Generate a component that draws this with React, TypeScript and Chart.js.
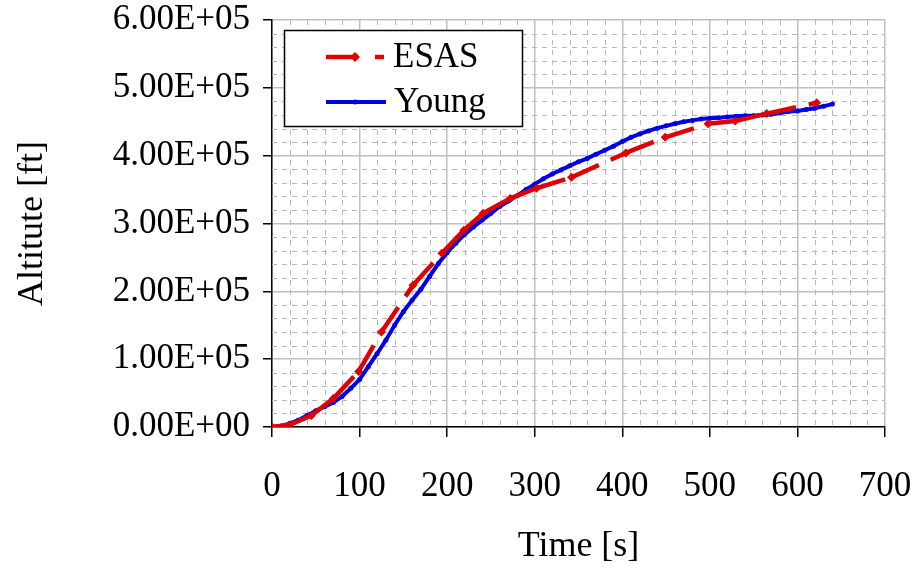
import React, { useEffect, useRef } from 'react';
import { Chart, registerables } from 'chart.js';

Chart.register(...registerables);

// ---- Data ----
const seriesNames = ['ESAS', 'Young'];

const youngTime = [
  0, 10, 20, 30, 40, 50, 60, 70, 80, 90, 100, 110, 120, 130, 140, 150, 160, 170, 180, 190,
  200, 210, 220, 230, 240, 250, 260, 270, 280, 290, 300, 310, 320, 330, 340, 350, 360, 370,
  380, 390, 400, 410, 420, 430, 440, 450, 460, 470, 480, 490, 500, 510, 520, 530, 540, 550,
  560, 570, 580, 590, 600, 610, 620, 630, 640,
];
const youngAlt = [
  0, 1500, 5000, 10000, 17000, 24000, 30000, 36000, 45000, 57000, 70000, 89000, 108000, 128000,
  150000, 170000, 187000, 203000, 222000, 241000, 257000, 271000, 284000, 295000, 305000, 315000,
  325000, 333000, 341000, 350000, 358000, 366000, 373000, 379000, 385000, 391000, 396000, 402000,
  408000, 414000, 421000, 427000, 432000, 436500, 440500, 444000, 447000, 450000, 452000, 454000,
  455000, 456000, 457000, 458000, 459000, 459000, 460000, 461000, 463000, 465000, 466000, 468000,
  470000, 473000, 476000,
];

const esasTime = [0, 20, 45, 70, 99, 125, 161, 194, 219, 241, 272, 302, 342, 404, 449, 498, 529, 565, 622];
const esasAlt = [
  0, 3000, 17000, 42000, 82000, 140000, 209000, 256000, 290000, 315000, 337000, 352000, 368000,
  404000, 427000, 447000, 451000, 462000, 478000,
];

const xTickValues = [0, 100, 200, 300, 400, 500, 600, 700];
const yTickLabels = ['0.00E+00', '1.00E+05', '2.00E+05', '3.00E+05', '4.00E+05', '5.00E+05', '6.00E+05'];

const RED = '#e00000';
const BLUE = '#0000e6';
const FONT = '"Liberation Serif", "Times New Roman", serif';

const minorGridPlugin = {
  id: 'minorGrid',
  beforeDatasetsDraw(chart: any) {
    const { ctx, chartArea, scales } = chart;
    const xs = scales.x;
    const ys = scales.y;
    ctx.save();
    ctx.strokeStyle = '#b8b8b8';
    ctx.lineWidth = 1;
    ctx.setLineDash([5, 5]);
    for (let v = 20; v < 700; v += 20) {
      if (v % 100 === 0) continue;
      const px = Math.round(xs.getPixelForValue(v)) + 0.5;
      ctx.beginPath();
      ctx.moveTo(px, chartArea.top);
      ctx.lineTo(px, chartArea.bottom);
      ctx.stroke();
    }
    for (let v = 20000; v < 600000; v += 20000) {
      if (v % 100000 === 0) continue;
      const py = Math.round(ys.getPixelForValue(v)) + 0.5;
      ctx.beginPath();
      ctx.moveTo(chartArea.left, py);
      ctx.lineTo(chartArea.right, py);
      ctx.stroke();
    }
    ctx.restore();
  },
};

const legendPlugin = {
  id: 'insideLegend',
  afterDraw(chart: any) {
    const { ctx, chartArea } = chart;
    const bx = chartArea.left + 12;
    const by = chartArea.top + 10;
    const bw = 239;
    const bh = 97;
    ctx.save();
    ctx.fillStyle = '#ffffff';
    ctx.fillRect(bx, by, bw, bh);
    ctx.strokeStyle = '#000000';
    ctx.lineWidth = 1.5;
    ctx.setLineDash([]);
    ctx.strokeRect(bx + 0.5, by + 0.5, bw - 1, bh - 1);

    const lx0 = bx + 42;
    const lx1 = bx + 100;
    const mid = (lx0 + lx1) / 2;
    const y1 = by + 27;
    const y2 = by + 72;

    // ESAS sample
    ctx.strokeStyle = RED;
    ctx.lineWidth = 4.5;
    ctx.setLineDash([32, 17]);
    ctx.beginPath();
    ctx.moveTo(lx0, y1);
    ctx.lineTo(lx1, y1);
    ctx.stroke();
    ctx.setLineDash([]);
    ctx.fillStyle = RED;
    ctx.beginPath();
    ctx.moveTo(mid + 5, y1);
    ctx.lineTo(mid, y1 - 5);
    ctx.lineTo(mid - 5, y1);
    ctx.lineTo(mid, y1 + 5);
    ctx.closePath();
    ctx.fill();

    // Young sample
    ctx.strokeStyle = BLUE;
    ctx.lineWidth = 4;
    ctx.beginPath();
    ctx.moveTo(lx0, y2);
    ctx.lineTo(lx1 + 2, y2);
    ctx.stroke();
    ctx.fillStyle = BLUE;
    ctx.beginPath();
    ctx.arc(mid, y2, 2.5, 0, Math.PI * 2);
    ctx.fill();

    ctx.fillStyle = '#000000';
    ctx.font = `35px ${FONT}`;
    ctx.textBaseline = 'middle';
    ctx.textAlign = 'left';
    ctx.fillText(seriesNames[0], bx + 109, y1 + 1);
    ctx.fillText(seriesNames[1], bx + 110, y2 + 1);
    ctx.restore();
  },
};

export default function App() {
  const canvasRef = useRef<HTMLCanvasElement | null>(null);

  useEffect(() => {
    if (!canvasRef.current) return;
    const chart = new Chart(canvasRef.current, {
      type: 'line',
      data: {
        datasets: [
          {
            label: seriesNames[0],
            data: esasTime.map((t, i) => ({ x: t, y: esasAlt[i] })),
            borderColor: RED,
            backgroundColor: RED,
            borderWidth: 4.5,
            borderDash: [30, 13],
            pointStyle: 'rectRot',
            pointRadius: 4.5,
            pointBorderWidth: 0,
            pointBackgroundColor: RED,
            tension: 0,
            segment: {
              borderDashOffset: (c: any) => c.p0DataIndex * 0.001,
            },
          },
          {
            label: seriesNames[1],
            data: youngTime.map((t, i) => ({ x: t, y: youngAlt[i] })),
            borderColor: BLUE,
            backgroundColor: BLUE,
            borderWidth: 4,
            pointStyle: 'circle',
            pointRadius: 2.5,
            pointBorderWidth: 0,
            pointBackgroundColor: BLUE,
            tension: 0,
          },
        ],
      },
      options: {
        animation: false,
        responsive: true,
        maintainAspectRatio: false,
        layout: { padding: { left: 0, top: 20, right: 29, bottom: 0 } },
        plugins: {
          legend: { display: false },
          tooltip: { enabled: false },
        },
        scales: {
          x: {
            type: 'linear',
            min: 0,
            max: 700,
            afterFit: (s: any) => {
              s.height = 145;
            },
            afterBuildTicks: (s: any) => {
              s.ticks = xTickValues.map((v) => ({ value: v }));
            },
            ticks: {
              autoSkip: false,
              maxRotation: 0,
              padding: 2,
              color: '#000',
              font: { family: FONT, size: 35, lineHeight: 2.74 },
              callback: (v: any) => String(v),
            },
            grid: {
              color: '#c0c0c0',
              lineWidth: 1.5,
              tickColor: '#000',
              tickLength: 10,
              tickWidth: 1.5,
            },
            border: { display: true, color: '#000', width: 1.5 },
            title: {
              display: true,
              text: 'Time [s]',
              color: '#000',
              font: { family: FONT, size: 36, lineHeight: 1 },
              padding: { top: 0, bottom: 7 },
            },
          },
          y: {
            type: 'linear',
            min: 0,
            max: 600000,
            afterFit: (s: any) => {
              s.width = 272;
            },
            ticks: {
              stepSize: 100000,
              autoSkip: false,
              padding: 13,
              color: '#000',
              font: { family: FONT, size: 35, lineHeight: 0.35 },
              callback: (v: any) => yTickLabels[Math.round(Number(v) / 100000)] ?? '',
            },
            grid: {
              color: '#c0c0c0',
              lineWidth: 1.5,
              tickColor: '#000',
              tickLength: 9,
              tickWidth: 1.5,
            },
            border: { display: true, color: '#000', width: 1.5 },
            title: {
              display: true,
              text: 'Altitute [ft]',
              color: '#000',
              font: { family: FONT, size: 36, lineHeight: 1 },
              padding: { top: 15, bottom: 0 },
            },
          },
        },
      },
      plugins: [minorGridPlugin, legendPlugin],
    });
    return () => chart.destroy();
  }, []);

  return (
    <div style={{ position: 'fixed', left: 0, top: 0, width: 914, height: 572, background: '#fff' }}>
      <canvas ref={canvasRef} />
    </div>
  );
}
